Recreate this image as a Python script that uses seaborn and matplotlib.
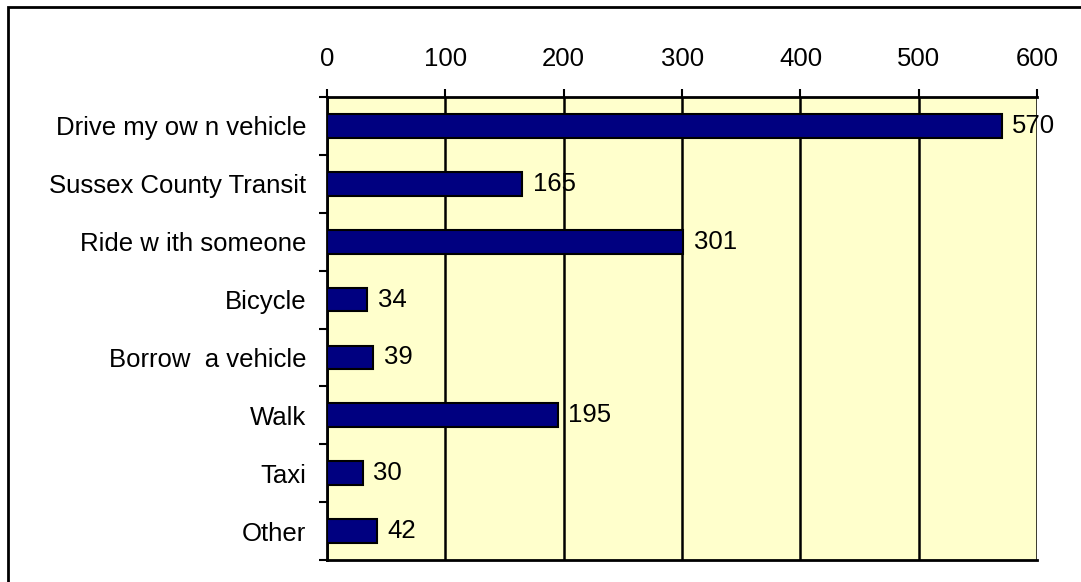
import numpy as np
import pandas as pd
import matplotlib
matplotlib.use("Agg")
import matplotlib.pyplot as plt
import seaborn as sns
from matplotlib.ticker import FixedLocator

# dados do gráfico
categorias = ["Drive my ow n vehicle", "Sussex County Transit", "Ride w ith someone",
              "Bicycle", "Borrow  a vehicle", "Walk", "Taxi", "Other"]
valores = [570, 165, 301, 34, 39, 195, 30, 42]
ticks_x = [0, 100, 200, 300, 400, 500, 600]

sns.set_theme(style="white")
plt.rcParams["font.family"] = ["Liberation Sans", "DejaVu Sans"]
plt.rcParams["text.color"] = "black"
plt.rcParams["xtick.color"] = "black"
plt.rcParams["ytick.color"] = "black"

df = pd.DataFrame({"categoria": categorias, "valor": valores})

fig = plt.figure(figsize=(10.81, 5.82), dpi=100)
ax = fig.add_axes([0.3025, 0.0378, 0.657, 0.7955])
ax.set_facecolor("#FFFFCC")

sns.barplot(data=df, x="valor", y="categoria", orient="h", color="#000080",
            edgecolor="black", linewidth=1.5, width=0.41, saturation=1, ax=ax, zorder=3)

for i, v in enumerate(valores):
    ax.text(v + 9, i, str(v), va="center", ha="left", fontsize=18.5, color="black", zorder=4)

ax.set_xlim(0, 600)
ax.set_ylim(len(categorias) - 0.5, -0.5)
ax.set_xticks(ticks_x)
ax.xaxis.tick_top()
ax.tick_params(axis="x", top=True, bottom=False, length=6, width=1.5, direction="out",
               labelsize=18.5, pad=13, color="black", labelcolor="black")
ax.grid(axis="x", color="black", linewidth=1.8, zorder=1)

# ticks do eixo y entre categorias
ax.yaxis.set_major_locator(FixedLocator(np.arange(len(categorias))))
ax.yaxis.set_minor_locator(FixedLocator(np.arange(-0.5, len(categorias), 1)))
ax.tick_params(axis="y", which="major", length=0, labelsize=18.5, pad=15, labelcolor="black")
ax.tick_params(axis="y", which="minor", left=True, length=6, width=1.5, color="black")
ax.set_xlabel("")
ax.set_ylabel("")

for lado in ["top", "left", "bottom"]:
    ax.spines[lado].set_color("black")
    ax.spines[lado].set_linewidth(2)
ax.spines["right"].set_visible(False)

# moldura exterior (só os lados esquerdo e de cima ficam visíveis)
fig.patches.append(plt.Rectangle((0.0075, -0.05), 1.1, 1.038, transform=fig.transFigure,
                                 fill=False, edgecolor="black", linewidth=2))

fig.savefig("out.png", dpi=100)
